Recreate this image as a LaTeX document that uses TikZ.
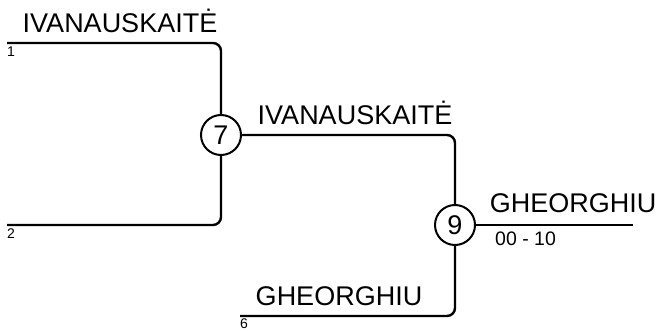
\documentclass[tikz,border=0pt]{standalone}
\usepackage{fontspec}
\setmainfont{Liberation Sans}
\usetikzlibrary{positioning}
\tikzset{
  wire/.style={line width=2.4pt, rounded corners=8pt},
  seed/.style={draw, circle, line width=2pt, minimum size=40pt, inner sep=0pt, font=\fontsize{27}{29}\selectfont},
  player/.style={font=\fontsize{27}{30}\selectfont, anchor=base, inner sep=0pt},
  slot/.style={font=\fontsize{14}{16}\selectfont, anchor=north west, inner sep=0pt},
  score/.style={font=\fontsize{19.5}{22}\selectfont, anchor=base west, inner sep=0pt}
}
\begin{document}
\begin{tikzpicture}[x=1pt,y=-1pt]
\useasboundingbox (0,0) rectangle (658,331);
% matches
\node[seed] (m7) at (221,135) {7};
\node[seed] (m9) at (455,225) {9};
% free ends
\coordinate (p1) at (7,43);
\coordinate (p2) at (7,225);
\coordinate (p6) at (240,316);
\coordinate (win) at (633,225);
\draw[wire] (p1) -| (m7);
\draw[wire] (p2) -| (m7);
\draw[wire] (m7) -| (m9);
\draw[wire] (p6) -| (m9);
\draw[wire] (m9) -- (win);
% names
\node[player] (n1) at (120,33) {IVANAUSKAITĖ};
\node[player] (n7) at (355,125) {IVANAUSKAITĖ};
\node[player] (n6) at (339,305) {GHEORGHIU};
\node[player] (n9) at (573,212) {GHEORGHIU};
\node[score] (s9) at (495,245) {00 - 10};
\node[slot] (l1) at (7,47) {1};
\node[slot] (l2) at (7,229) {2};
\node[slot] (l6) at (240,319) {6};
\end{tikzpicture}
\end{document}
